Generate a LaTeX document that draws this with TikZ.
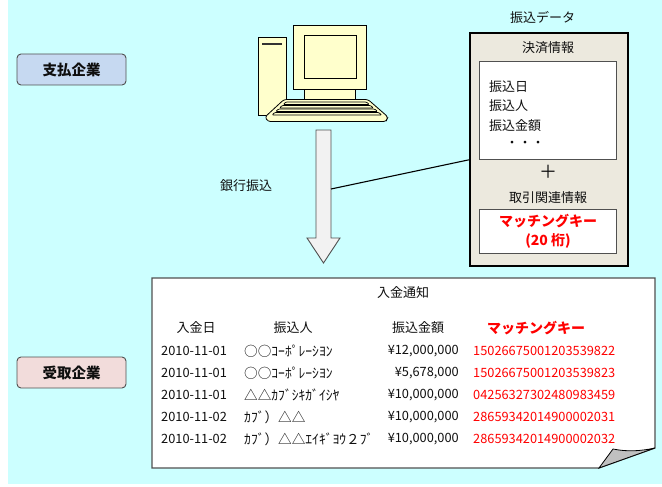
\documentclass[tikz,border=0pt]{standalone}
\usepackage{fontspec}
\setmainfont{Noto Sans CJK JP}
\usetikzlibrary{calc}
\definecolor{bgcyan}{RGB}{204,255,255}
\definecolor{payblue}{RGB}{198,217,241}
\definecolor{recvpink}{RGB}{242,220,219}
\definecolor{pcyellow}{RGB}{255,255,204}
\definecolor{databg}{RGB}{236,233,222}
\definecolor{arrowgray}{RGB}{242,242,242}
\definecolor{edgegray}{RGB}{80,80,80}
\definecolor{foldgray}{RGB}{192,192,192}
\definecolor{keyred}{RGB}{255,0,0}
\definecolor{ink}{RGB}{15,15,15}
\begin{document}
\begin{tikzpicture}[x=1pt,y=-1pt,
  every node/.style={inner sep=0pt, text=ink, font=\fontsize{13}{15}\selectfont},
  corp/.style={draw=edgegray, line width=0.9pt, rounded corners=4pt,
    minimum width=109pt, minimum height=31pt, font=\fontsize{14.5}{16}\selectfont\bfseries},
  panel/.style={draw=edgegray, line width=0.8pt, fill=white, anchor=north west},
  pc/.style={draw=black, line width=0.8pt, fill=pcyellow},
  cell/.style={font=\fontsize{12.8}{14}\selectfont},
  namecell/.style={font=\fontsize{13.6}{15}\selectfont},
  keycell/.style={cell, text=keyred},
  redbold/.style={text=keyred, font=\fontsize{14}{16}\selectfont\bfseries}
]
\useasboundingbox (0,0) rectangle (662,487);
\fill[white] (0,0) rectangle (662,487);
\fill[bgcyan] (8,0) rectangle (662,484);

% company labels
\node[corp, fill=payblue] (payer) at (71.5,69.5) {支払企業};
\node[corp, fill=recvpink] (payee) at (71.5,372.5) {受取企業};

% computer: tower, monitor, keyboard
\draw[pc] (258,37) rectangle (286,115);
\draw[line width=2pt, black!80] (262,44) -- (282,44);
\draw[pc] (293,25) rectangle (366,89);
\draw[pc] (304,35) rectangle (356,78);
\draw[pc] (304,89) rectangle (355,99);
\draw[pc, rounded corners=2.5pt] (284,99.5) -- (368,99.5) -- (388,117) -- (386,121.5)
  -- (268,121.5) -- (265,117) -- cycle;
\foreach \ya/\yb in {102/104.5, 105.5/108, 109/111.5, 112.5/115}{
  \draw[pc, line width=0.7pt, rounded corners=1pt]
    ({288-1.06*(\ya-100)},\ya) -- ({364+1.18*(\ya-100)},\ya)
    -- ({364+1.18*(\yb-100)},\yb) -- ({288-1.06*(\yb-100)},\yb) -- cycle;
}

% transfer arrow
\draw[draw=edgegray, line width=0.9pt, fill=arrowgray]
  (316,130) -- (331,130) -- (331,238) -- (340,238) -- (323.5,263)
  -- (307,238) -- (316,238) -- cycle;
\coordinate (xferside) at (331,189);
\node (xferlabel) at (246,186) {銀行振込};

% transfer data panel
\node (datatitle) at (542.5,17) {振込データ};
\node[draw=black, line width=1.8pt, fill=databg, minimum width=158pt,
  minimum height=233pt, anchor=north west] (data) at (469,32) {};
\node (settletitle) at (548,48) {決済情報};
\node[panel, minimum width=137pt, minimum height=98pt] (settle) at (479,61) {};
\node[anchor=west] (f1) at (489,87) {振込日};
\node[anchor=west] (f2) at (489,106) {振込人};
\node[anchor=west] (f3) at (489,126) {振込金額};
\node (dots) at (525,144) {・・・};
\node[font=\fontsize{18}{18}\selectfont] (plus) at (548,172) {＋};
\node (tradetitle) at (548,198) {取引関連情報};
\node[panel, minimum width=137pt, minimum height=44pt] (keybox) at (479,209) {};
\node[redbold] (keyname) at (548,221) {マッチングキー};
\node[redbold] (keylen) at (548,241) {(20 桁)};

\draw[line width=1.1pt, black] (xferside) -- (settle.south -| data.west);

% payment notice sheet with folded corner
\draw[draw=edgegray, line width=1.2pt, fill=white]
  (152,278) -- (655,278) -- (655,448) -- (599,468) -- (152,468) -- cycle;
\draw[draw=black, line width=0.8pt, fill=foldgray]
  (599,468) -- (613,449) .. controls (628,452) and (641,451) .. (655,448) -- cycle;

\node (notice) at (403,293) {入金通知};
\node (h1) at (196,328) {入金日};
\node (h2) at (293,328) {振込人};
\node (h3) at (418,328) {振込金額};
\node[redbold] (h4) at (536,328) {マッチングキー};

\foreach \y/\d/\n/\a/\k in {
  351/2010-11-01/○○ｺｰﾎﾟﾚｰｼﾖﾝ/{¥12,000,000}/15026675001203539822,
  373/2010-11-01/○○ｺｰﾎﾟﾚｰｼﾖﾝ/{¥5,678,000}/15026675001203539823,
  395/2010-11-01/△△ｶﾌﾞｼｷｶﾞｲｼﾔ/{¥10,000,000}/04256327302480983459,
  417/2010-11-02/ｶﾌﾞ）△△/{¥10,000,000}/28659342014900002031,
  439/2010-11-02/ｶﾌﾞ）△△ｴｲｷﾞﾖｳ２ﾌﾞ/{¥10,000,000}/28659342014900002032}{
  \node[cell, anchor=west] (d\y) at (161,\y) {\d};
  \node[namecell, anchor=west] (n\y) at (244,\y) {\n};
  \node[cell, anchor=east] (a\y) at (459,\y) {\a};
  \node[keycell, anchor=west] (k\y) at (473,\y) {\k};
}
\end{tikzpicture}
\end{document}
